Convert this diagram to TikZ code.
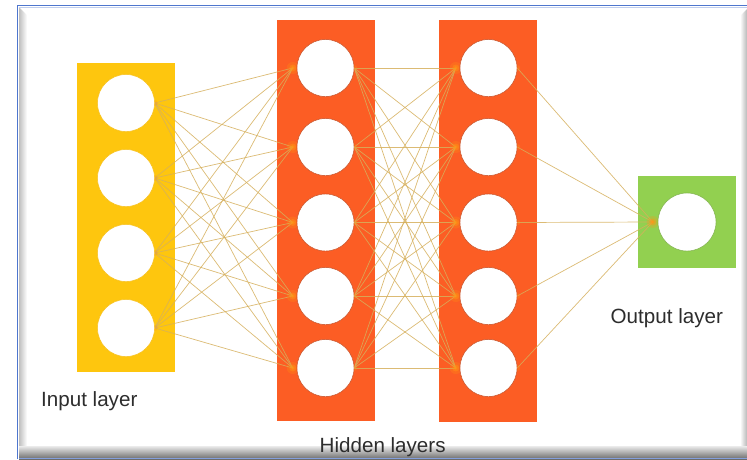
\documentclass[tikz,border=0pt]{standalone}
\usepackage{fontspec}
\setmainfont{Liberation Sans}
\definecolor{inyellow}{RGB}{254,198,14}
\definecolor{hidorange}{RGB}{252,93,36}
\definecolor{outgreen}{RGB}{146,208,80}
\definecolor{linkc}{RGB}{214,176,92}
\definecolor{glowc}{RGB}{255,150,20}
\definecolor{txtc}{RGB}{45,45,45}
\definecolor{frameblue}{RGB}{78,118,206}
\begin{document}
\begin{tikzpicture}[x=1pt,y=-1pt,
  layerbox/.style={rectangle, draw=none, inner sep=0pt, anchor=north west},
  neuron/.style={circle, fill=white, draw=#1, line width=0.45pt, minimum size=57pt, inner sep=0pt},
  link/.style={draw=linkc, line width=0.7pt, opacity=0.85},
  glow/.style={fill=glowc},
  lbl/.style={font=\fontsize{20.6}{24}\selectfont, text=txtc, inner sep=0pt, anchor=base west}]

% canvas
\useasboundingbox (0,0) rectangle (747,459);
\fill[white] (0,0) rectangle (747,459);

% window frame: bevels and shadows
\shade[left color=black!25, right color=white] (19,7) -- (27,15) -- (27,446) -- (19,451) -- cycle;
\shade[left color=white, right color=black!28] (740,16) -- (747,9) -- (747,452) -- (740,446) -- cycle;
\shade[top color=black!8, bottom color=black!58] (19,446) -- (747,446) -- (747,459) -- (19,459) -- cycle;
\draw[frameblue!70, line width=0.8pt] (19,458.6) -- (747,458.6);
\draw[frameblue, line width=1.8pt] (17.5,459) -- (17.5,5.5) -- (747,5.5);
\draw[frameblue!35, line width=0.8pt] (19,7.3) -- (747,7.3);

% layer boxes
\node[layerbox, fill=inyellow, minimum width=98.5pt, minimum height=308.5pt] (inbox) at (76.5,63) {};
\node[layerbox, fill=hidorange, minimum width=98.5pt, minimum height=401pt] (hAbox) at (276.5,19.5) {};
\node[layerbox, fill=hidorange, minimum width=98pt, minimum height=402pt] (hBbox) at (439,19.5) {};
\node[layerbox, fill=outgreen, minimum width=98pt, minimum height=92pt] (outbox) at (638,176) {};

% neurons
\foreach \i/\y in {1/103,2/178,3/253,4/328}
  \node[neuron=inyellow!90!brown] (i\i) at (126,\y) {};
\foreach \j/\y in {1/68,2/147,3/222.5,4/296,5/368} {
  \node[neuron=hidorange!80!black] (a\j) at (325.5,\y) {};
  \node[neuron=hidorange!80!black] (b\j) at (488.5,\y) {};
}
\node[neuron=outgreen!85!black, minimum size=58pt] (o1) at (687,222) {};

% end points of the incoming connections, just left of each neuron
\foreach \j in {1,...,5} {
  \coordinate (ain\j) at ([xshift=-4pt]a\j.west);
  \coordinate (bin\j) at ([xshift=-4pt]b\j.west);
}
\coordinate (oin) at ([xshift=-5pt]o1.west);

% connections
\foreach \i in {1,...,4}
  \foreach \j in {1,...,5}
    \draw[link] (i\i.east) -- (ain\j);
\foreach \i in {1,...,5}
  \foreach \j in {1,...,5}
    \draw[link] (a\i.east) -- (bin\j);
\foreach \i in {1,...,5}
  \draw[link] (b\i.east) -- (oin);

% glow where the connections meet
\foreach \c in {ain1,ain2,ain3,ain4,ain5,bin1,bin2,bin3,bin4,bin5,oin} {
  \fill[glow, opacity=0.25] (\c) circle (6);
  \fill[glow, opacity=0.45] (\c) circle (3.5);
  \fill[glow, opacity=0.6] (\c) circle (1.8);
}
\foreach \i in {1,...,4}
  \fill[glow, opacity=0.3] (i\i.east) circle (3);
\foreach \i in {1,...,5} {
  \fill[glow, opacity=0.3] (a\i.east) circle (3);
  \fill[glow, opacity=0.3] (b\i.east) circle (3);
}

% redraw the neurons over the connection ends
\foreach \i in {1,...,4}
  \node[neuron=inyellow!90!brown] at (i\i) {};
\foreach \j in {1,...,5} {
  \node[neuron=hidorange!80!black] at (a\j) {};
  \node[neuron=hidorange!80!black] at (b\j) {};
}
\node[neuron=outgreen!85!black, minimum size=58pt] at (o1) {};

% labels
\node[lbl] (inlbl) at (41,406.5) {Input layer};
\node[lbl] (hidlbl) at (319.5,452) {Hidden layers};
\node[lbl] (outlbl) at (610.5,323.5) {Output layer};
\end{tikzpicture}
\end{document}
